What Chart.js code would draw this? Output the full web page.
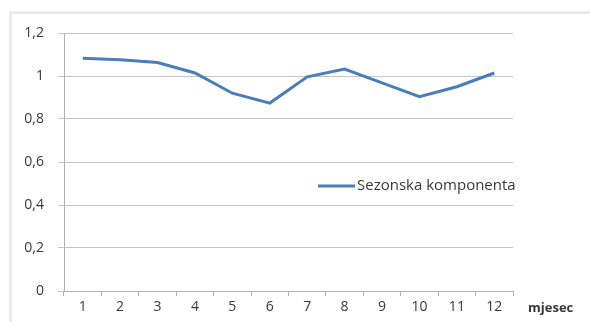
<!DOCTYPE html>
<html>
<head>
<meta charset="utf-8">
<script src="https://cdn.jsdelivr.net/npm/chart.js@4/dist/chart.umd.min.js"></script>
<style>
  html, body { margin: 0; padding: 0; background: #fff; }
  #wrap { position: relative; width: 590px; height: 322px; overflow: hidden; }
  #frame { position: absolute; left: 9px; top: 11px; width: 600px; height: 330px;
           border-left: 3px solid #ebebeb; border-top: 3px solid #ebebeb; box-sizing: border-box; }
  canvas { position: absolute; left: 0; top: 0; }
</style>
</head>
<body>
<div id="wrap">
  <div id="frame"></div>
  <canvas id="c" width="590" height="322"></canvas>
</div>
<script>
// Months (x axis categories)
const months = ['1', '2', '3', '4', '5', '6', '7', '8', '9', '10', '11', '12'];
// Seasonal index per month
const seasonal = [1.083, 1.076, 1.063, 1.014, 0.920, 0.874, 0.996, 1.032, 0.968, 0.904, 0.950, 1.014];
// Y axis ticks
const yTicks = [0, 0.2, 0.4, 0.6, 0.8, 1, 1.2];
const seriesName = 'Sezonska komponenta';
const xTitle = 'mjesec';

const FONT = '"Open Sans", sans-serif';
const TEXT = '#383838';

// Legend drawn inside the plot, plus the axis title at the right end of the x labels
const extras = {
  id: 'extras',
  afterDraw(chart) {
    const ctx = chart.ctx;
    const area = chart.chartArea;
    const ds = chart.data.datasets[0];
    ctx.save();
    const ly = area.top + 153;
    const lx = area.left + 254;
    ctx.strokeStyle = ds.borderColor;
    ctx.lineWidth = 3;
    ctx.beginPath();
    ctx.moveTo(lx, ly);
    ctx.lineTo(lx + 37, ly);
    ctx.stroke();
    ctx.fillStyle = TEXT;
    ctx.font = '15px ' + FONT;
    ctx.textBaseline = 'middle';
    ctx.textAlign = 'left';
    ctx.fillText(ds.label, lx + 39, ly);
    // axis title
    ctx.font = 'bold 13px ' + FONT;
    ctx.fillText(xTitle, area.right + 15, area.bottom + 17);
    ctx.restore();
  }
};

new Chart(document.getElementById('c'), {
  type: 'line',
  data: {
    labels: months,
    datasets: [{
      label: seriesName,
      data: seasonal,
      borderColor: '#4a7ebb',
      borderWidth: 3,
      pointRadius: 0,
      tension: 0,
      fill: false
    }]
  },
  options: {
    responsive: false,
    animation: false,
    devicePixelRatio: 1,
    layout: { padding: { left: 0, top: 33, right: 77, bottom: 0 } },
    plugins: { legend: { display: false }, tooltip: { enabled: false } },
    scales: {
      x: {
        type: 'category',
        offset: true,
        grid: {
          offset: true,
          drawOnChartArea: false,
          drawTicks: true,
          tickLength: 5,
          color: '#b0b0b0'
        },
        border: { display: true, color: '#b0b0b0', width: 1 },
        ticks: { color: TEXT, font: { family: FONT, size: 14 }, padding: 3, maxRotation: 0, autoSkip: false },
        afterFit(scale) { scale.height = 31; }
      },
      y: {
        min: 0,
        max: 1.2,
        afterBuildTicks(scale) { scale.ticks = yTicks.map(v => ({ value: v })); },
        grid: { color: '#c4c4c4', tickLength: 6, drawTicks: true },
        border: { display: true, color: '#b0b0b0', width: 1 },
        ticks: {
          color: TEXT,
          font: { family: FONT, size: 14 },
          padding: 14,
          callback: v => String(Math.round(v * 10) / 10).replace('.', ',')
        },
        afterFit(scale) { scale.width = 64; }
      }
    }
  },
  plugins: [extras]
});
</script>
</body>
</html>
